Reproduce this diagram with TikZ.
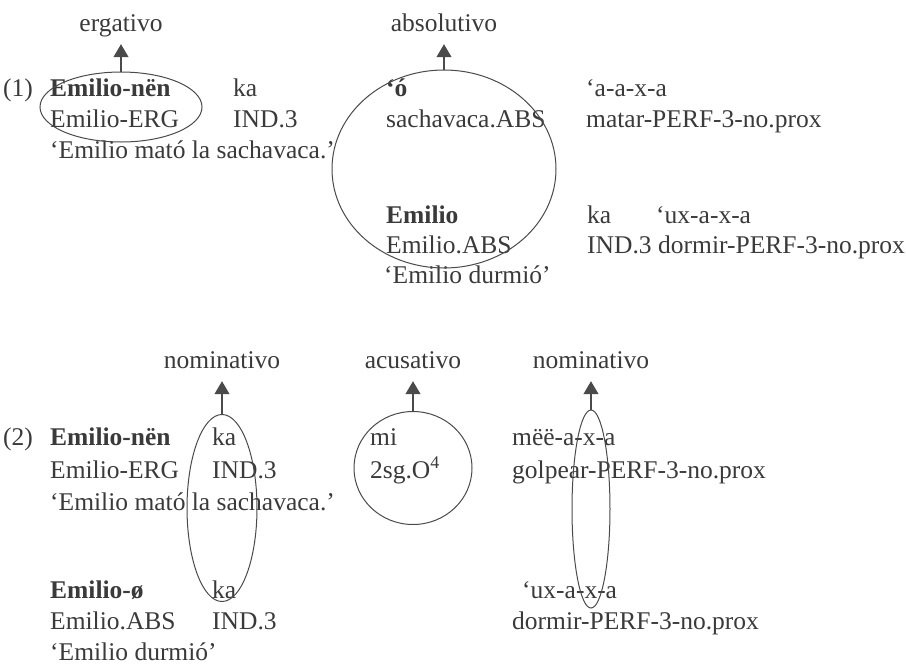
\documentclass[tikz,border=0pt]{standalone}
\usepackage{fontspec}
\setmainfont{Liberation Serif}
\usepackage{tikz}
\usetikzlibrary{positioning, shapes.geometric, arrows.meta}
\definecolor{inkgray}{HTML}{3A3A3A}
\definecolor{linegray}{HTML}{4A4A4A}

\begin{document}
\begin{tikzpicture}[
    x=1pt, y=-1pt,
    word/.style={anchor=base west, inner sep=0pt, text=inkgray, font=\fontsize{25.5}{30}\selectfont},
    bword/.style={word, font=\fontsize{25.5}{30}\selectfont\bfseries},
    caselab/.style={anchor=base, inner sep=7pt, text depth=6pt, text=inkgray, font=\fontsize{25.5}{30}\selectfont},
    ring/.style={draw=linegray, line width=1pt, ellipse, inner sep=0pt},
    arrow/.style={-{Triangle[width=15pt,length=13pt]}, draw=linegray, line width=1.2pt}
  ]
  \useasboundingbox (0,0) rectangle (906,665);

  % (1) ergativo / absolutivo
  \node[word] (ex1) at (3,96) {(1)};
  \node[bword] (erga) at (50,96) {Emilio-nën};
  \node[word] (ergb) at (50,127) {Emilio-ERG};
  \node[word] (ergc) at (50,158) {‘Emilio mató la sachavaca.’};
  \node[word] (inda) at (233,96) {ka};
  \node[word] (indb) at (233,127) {IND.3};
  \node[bword] (absa) at (386,96) {‘ó};
  \node[word] (absb) at (386,127) {sachavaca.ABS};
  \node[word] (verba) at (586,96) {‘a-a-x-a};
  \node[word] (verbb) at (586,127) {matar-PERF-3-no.prox};

  \node[bword] (absd) at (386,223) {Emilio};
  \node[word] (abse) at (386,253) {Emilio.ABS};
  \node[word] (absf) at (384,283) {‘Emilio durmió’};
  \node[word] (indd) at (587,223) {ka};
  \node[word] (inde) at (587,253) {IND.3};
  \node[word] (verbd) at (656,223) {‘ux-a-x-a};
  \node[word] (verbe) at (658,253) {dormir-PERF-3-no.prox};

  \node[ring, minimum width=162pt, minimum height=70pt] (ergring) at (121,107) {};
  \node[ring, minimum width=224pt, minimum height=198pt] (absring) at (444,169) {};
  \node[caselab] (erglab) at (121,31) {ergativo};
  \node[caselab] (abslab) at (444,31) {absolutivo};
  \draw[arrow] (ergring.north) -- (erglab.south);
  \draw[arrow] (absring.north) -- (abslab.south);

  % (2) nominativo / acusativo
  \node[word] (ex2) at (3,445) {(2)};
  \node[bword] (noma) at (50,445) {Emilio-nën};
  \node[word] (nomb) at (50,478) {Emilio-ERG};
  \node[word] (nomc) at (50,510) {‘Emilio mató la sachavaca.’};
  \node[bword] (nomd) at (50,598) {Emilio-ø};
  \node[word] (nome) at (50,629) {Emilio.ABS};
  \node[word] (nomf) at (50,660) {‘Emilio durmió’};
  \node[word] (auxa) at (212,445) {ka};
  \node[word] (auxb) at (212,478) {IND.3};
  \node[word] (auxd) at (212,598) {ka};
  \node[word] (auxe) at (212,629) {IND.3};
  \node[word] (acca) at (370,445) {mi};
  \node[word] (accb) at (370,478) {2sg.O\textsuperscript{4}};
  \node[word] (vba) at (512,445) {mëë-a-x-a};
  \node[word] (vbb) at (512,478) {golpear-PERF-3-no.prox};
  \node[word] (vbd) at (522,598) {‘ux-a-x-a};
  \node[word] (vbe) at (512,629) {dormir-PERF-3-no.prox};

  \node[ring, minimum width=70pt, minimum height=187pt] (nomring) at (222,508) {};
  \node[ring, minimum width=118pt, minimum height=113pt] (accring) at (413,468) {};
  \node[ring, minimum width=38pt, minimum height=198pt] (vbring) at (591,509) {};
  \node[caselab] (nomlab) at (222,368) {nominativo};
  \node[caselab] (acclab) at (413,368) {acusativo};
  \node[caselab] (vblab) at (591,368) {nominativo};
  \draw[arrow] (nomring.north) -- (nomlab.south);
  \draw[arrow] (accring.north) -- (acclab.south);
  \draw[arrow] (vbring.north) -- (vblab.south);
\end{tikzpicture}
\end{document}
